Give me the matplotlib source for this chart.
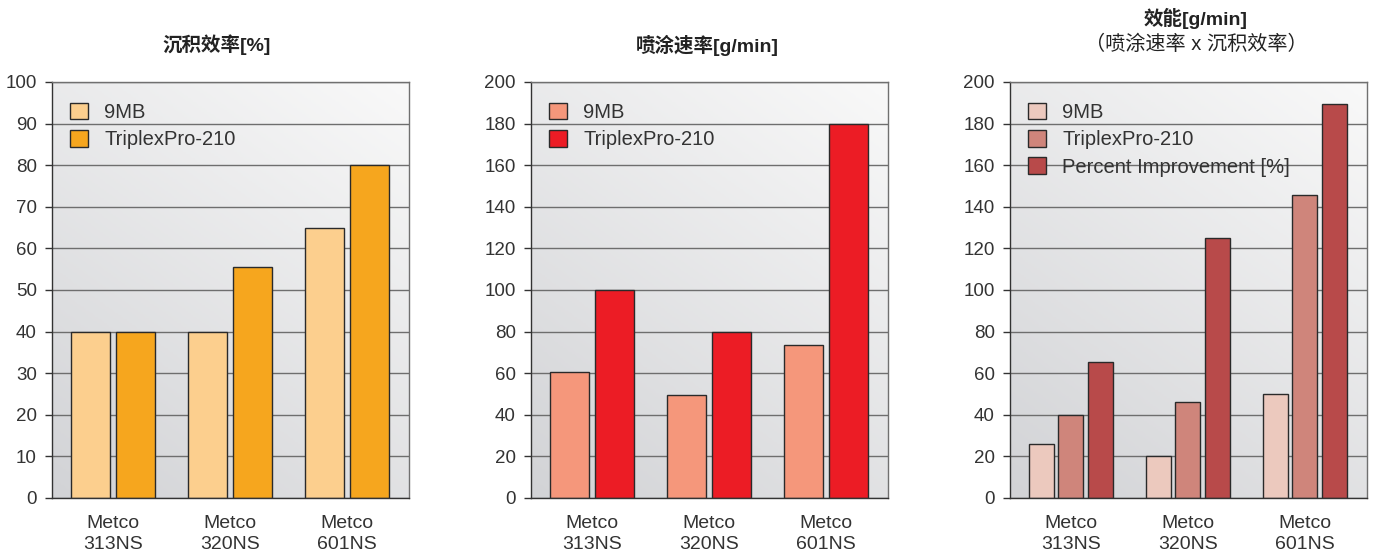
import numpy as np
import matplotlib
matplotlib.use("Agg")
import matplotlib.pyplot as plt
from matplotlib.colors import LinearSegmentedColormap

plt.rcParams['font.family'] = ['Liberation Sans', 'Noto Sans CJK SC', 'DejaVu Sans']

# ---- data ----
categories = ["Metco\n313NS", "Metco\n320NS", "Metco\n601NS"]

de_9mb = [40, 40, 65]
de_triplex = [40, 55.5, 80]

rate_9mb = [60.5, 49.5, 73.5]
rate_triplex = [100, 80, 180]

eff_9mb = [26, 20, 50]
eff_triplex = [40, 46, 145.5]
eff_improve = [65.5, 125, 189.5]

panels = [
    dict(title="沉积效率[%]", sub=None, ymax=100, step=10,
         series=[("9MB", de_9mb, "#fccf8e"), ("TriplexPro-210", de_triplex, "#f6a61e")]),
    dict(title="喷涂速率[g/min]", sub=None, ymax=200, step=20,
         series=[("9MB", rate_9mb, "#f5977b"), ("TriplexPro-210", rate_triplex, "#ec1c25")]),
    dict(title="效能[g/min]", sub="（喷涂速率 x 沉积效率）", ymax=200, step=20,
         series=[("9MB", eff_9mb, "#ecc9be"), ("TriplexPro-210", eff_triplex, "#cf857b"),
                 ("Percent Improvement [%]", eff_improve, "#b84a4a")]),
]

W, H = 1381, 560
fig = plt.figure(figsize=(W / 100, H / 100), dpi=100)

bg_cmap = LinearSegmentedColormap.from_list("bg", ["#d2d3d6", "#f9f9f9"])
gx, gy = np.meshgrid(np.linspace(0, 1, 200), np.linspace(0, 1, 200))
grad = 0.62 * gy + 0.38 * gx

lefts = [52, 531, 1010]
title_x = [217, 707, 1196]
x = np.arange(len(categories))
txt = "#333333"

for p, left, tx in zip(panels, lefts, title_x):
    ax = fig.add_axes([left / W, (H - 498) / H, 357 / W, 416 / H])
    ax.imshow(grad, extent=[0, 1, 0, 1], transform=ax.transAxes, origin="lower",
              cmap=bg_cmap, aspect="auto", zorder=0)
    n = len(p["series"])
    if n == 2:
        width, step = 0.333, 0.383
    else:
        width, step = 0.214, 0.252
    for i, (name, vals, color) in enumerate(p["series"]):
        off = (i - (n - 1) / 2) * step
        ax.bar(x + off, vals, width, color=color, edgecolor="#2a2a2a",
               linewidth=1.0, label=name, zorder=2)

    ax.set_xlim(-0.52, 2.53)
    ax.set_ylim(0, p["ymax"])
    ax.set_yticks(np.arange(0, p["ymax"] + 1, p["step"]))
    ax.set_xticks(x)
    ax.set_xticklabels(categories, fontsize=14, color=txt, linespacing=1.3)
    ax.tick_params(axis="x", length=0, pad=12)
    ax.tick_params(axis="y", length=5, width=1, color="#333333", pad=6,
                   labelsize=13.5, labelcolor=txt)
    ax.yaxis.grid(True, color="#6e6e6e", linewidth=1.0, zorder=1)
    ax.set_axisbelow(True)
    for side in ["left", "bottom"]:
        ax.spines[side].set_color("#333333")
        ax.spines[side].set_linewidth(1.0)
    for side in ["top", "right"]:
        ax.spines[side].set_color("#707070")
        ax.spines[side].set_linewidth(1.0)

    leg = ax.legend(loc="upper left", frameon=False, fontsize=14.5,
                    handlelength=0.9, handleheight=0.9, handletextpad=0.8,
                    labelspacing=0.40, borderaxespad=0.0, bbox_to_anchor=(0.028, 0.97))
    for t in leg.get_texts():
        t.set_color(txt)

    if p["sub"] is None:
        fig.text(tx / W, 1 - 45 / H, p["title"], ha="center", va="center",
                 fontsize=14, fontweight="bold", color="#222222")
    else:
        fig.text(tx / W, 1 - 18 / H, p["title"], ha="center", va="center",
                 fontsize=14, fontweight="bold", color="#222222")
        fig.text(tx / W, 1 - 44 / H, p["sub"], ha="center", va="center",
                 fontsize=14.5, color="#222222")

fig.savefig("out.png", dpi=100)
